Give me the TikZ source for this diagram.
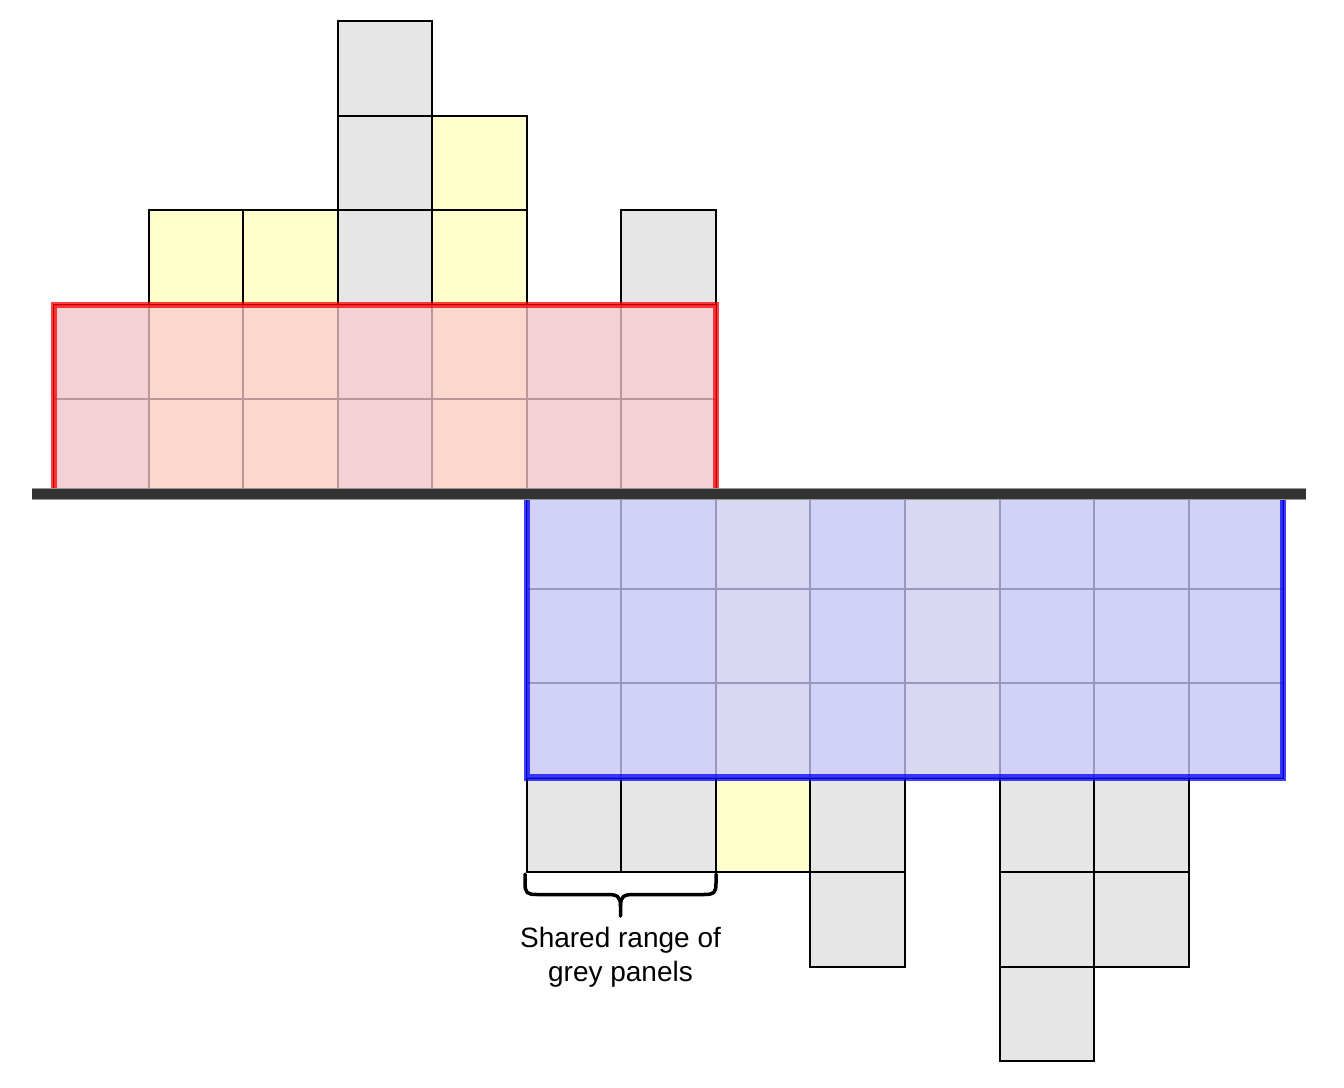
\documentclass[tikz,border=0pt]{standalone}
\usepackage{fontspec}
\setmainfont{Liberation Sans}
\definecolor{cellgrey}{HTML}{E6E6E6}
\definecolor{cellyellow}{HTML}{FFFFCC}
\definecolor{redfill}{HTML}{FACACE}
\definecolor{bluefill}{HTML}{CCCCFF}
\definecolor{axisgrey}{HTML}{333333}
\tikzset{
  cellbox/.style={draw=black, line width=2pt, minimum width=94.55pt, minimum height=94.55pt, inner sep=0pt, outer sep=0pt},
  gcell/.style={cellbox, fill=cellgrey},
  ycell/.style={cellbox, fill=cellyellow},
  redzone/.style={fill=redfill, fill opacity=0.75, draw=red, draw opacity=0.75, line width=6.5pt},
  bluezone/.style={fill=bluefill, fill opacity=0.75, draw=blue, draw opacity=0.75, line width=6.5pt},
  bracepath/.style={draw=black, line width=3.5pt, line cap=round, line join=round},
  labeltext/.style={font=\fontsize{28}{34}\selectfont, align=center, anchor=base, inner sep=0pt},
}
\newcommand\upcell[3]{\node[#3] (a#1-#2) at ({54+94.55*(#1+0.5)},{494-94.55*(#2-0.5)}) {};}
\newcommand\downcell[3]{\node[#3] (b#1-#2) at ({54+94.55*(#1+0.5)},{494+94.55*(#2-0.5)}) {};}
\begin{document}
\begin{tikzpicture}[x=1pt,y=-1pt]
\useasboundingbox (0,0) rectangle (1344,1087);
% cells above the axis
\foreach \c/\k/\s in {0/1/gcell,0/2/gcell,
  1/1/ycell,1/2/ycell,1/3/ycell,
  2/1/ycell,2/2/ycell,2/3/ycell,
  3/1/gcell,3/2/gcell,3/3/gcell,3/4/gcell,3/5/gcell,
  4/1/ycell,4/2/ycell,4/3/ycell,4/4/ycell,
  5/1/gcell,5/2/gcell,
  6/1/gcell,6/2/gcell,6/3/gcell}{\upcell{\c}{\k}{\s}}
% cells below the axis
\foreach \c/\k/\s in {5/1/gcell,5/2/gcell,5/3/gcell,5/4/gcell,
  6/1/gcell,6/2/gcell,6/3/gcell,6/4/gcell,
  7/1/ycell,7/2/ycell,7/3/ycell,7/4/ycell,
  8/1/gcell,8/2/gcell,8/3/gcell,8/4/gcell,8/5/gcell,
  9/1/ycell,9/2/ycell,9/3/ycell,
  10/1/gcell,10/2/gcell,10/3/gcell,10/4/gcell,10/5/gcell,10/6/gcell,
  11/1/gcell,11/2/gcell,11/3/gcell,11/4/gcell,11/5/gcell,
  12/1/gcell,12/2/gcell,12/3/gcell}{\downcell{\c}{\k}{\s}}
% translucent zones
\draw[redzone] (a0-2.north west) rectangle (a6-1.south east);
\draw[bluezone] (b5-1.north west) rectangle (b12-3.south east);
% axis
\coordinate (axL) at (32,494);
\coordinate (axR) at (1306,494);
\draw[line width=12.5pt, gray!80] (axL) -- (axR);
\draw[line width=10.5pt, axisgrey] (axL) -- (axR);
% brace
\coordinate (brL) at (525,874);
\coordinate (brR) at (716,874);
\coordinate (brM) at (620.5,916);
\draw[bracepath] (brL) -- (525,883) .. controls (525,893) and (527,894.5) .. (537,894.5)
  -- (607,894.5) .. controls (617,894.5) and (620.5,896) .. (620.5,906) -- (brM);
\draw[bracepath] (brR) -- (716,883) .. controls (716,893) and (714,894.5) .. (704,894.5)
  -- (634,894.5) .. controls (624,894.5) and (620.5,896) .. (620.5,906);
\node[labeltext] (lbl) at (620.5,981) {Shared range of\\grey panels};
\end{tikzpicture}
\end{document}
